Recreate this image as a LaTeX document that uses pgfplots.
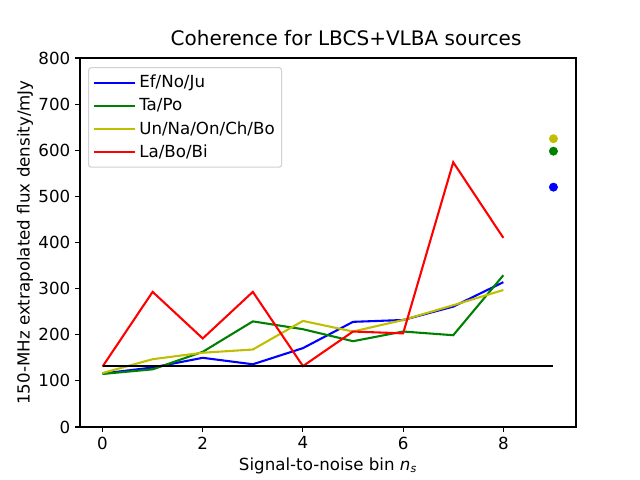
\documentclass[border=0pt]{standalone}
\usepackage{pgfplots}
\pgfplotsset{compat=1.18}
\usepackage{fontspec}
\setmainfont{DejaVu Sans}
\definecolor{mblue}{rgb}{0,0,1}
\definecolor{mgreen}{rgb}{0,0.5,0}
\definecolor{myellow}{rgb}{0.75,0.75,0}
\definecolor{mred}{rgb}{1,0,0}
\begin{document}
\begin{tikzpicture}
\useasboundingbox (-57.6pt,-38.16pt) rectangle (403.2pt,307.44pt);
\begin{axis}[
  at={(0,0)}, anchor=south west,
  scale only axis,
  width=357.12pt, height=265.68pt,
  xmin=-0.45, xmax=9.45,
  ymin=0, ymax=800,
  xtick={0,2,4,6,8},
  ytick={0,100,...,800},
  tick align=outside,
  tick pos=left,
  major tick length=3.5pt,
  tick style={black, line width=0.8pt},
  axis line style={line width=0.8pt},
  /pgf/number format/assume math mode=true,
  tick label style={font=\fontsize{12}{14}\selectfont},
  label style={font=\fontsize{12}{14}\selectfont},
  title style={font=\fontsize{14.4}{16}\selectfont, yshift=-1pt, xshift=13pt},
  title={Coherence for LBCS+VLBA sources},
  xlabel={Signal-to-noise bin {\itshape n}\textsubscript{\itshape s}},
  ylabel={150-MHz extrapolated flux density/mJy},
  xlabel style={yshift=1pt},
  ylabel style={yshift=-3pt},
  legend style={at={(0,1)}, anchor=north west, xshift=5.8pt, yshift=-6.5pt,
    draw=black!18, rounded corners=2pt, line width=0.8pt,
    font=\fontsize{12}{14}\selectfont, row sep=2.2pt,
    inner xsep=3pt, inner ysep=3.5pt},
  legend cell align=left,
  legend image code/.code={\path (0pt,0pt) -- (30pt,0pt);\draw[#1, line width=1.5pt] (0pt,0pt) -- (25pt,0pt);},
]
\addplot[mblue, line width=1.5pt] coordinates {
(0,116) (1,129) (2,150) (3,136) (4,171) (5,228) (6,232) (7,261) (8,314)};
\addlegendentry{Ef/No/Ju}
\addplot[mgreen, line width=1.5pt] coordinates {
(0,115) (1,125) (2,163) (3,229) (4,212) (5,186) (6,207) (7,199) (8,329)};
\addlegendentry{Ta/Po}
\addplot[myellow, line width=1.5pt] coordinates {
(0,117) (1,147) (2,161) (3,168) (4,230) (5,207) (6,232) (7,264) (8,297)};
\addlegendentry{Un/Na/On/Ch/Bo}
\addplot[mred, line width=1.5pt] coordinates {
(0,131) (1,293) (2,192) (3,293) (4,132) (5,207) (6,203) (7,574) (8,410)};
\addlegendentry{La/Bo/Bi}
\addplot[black, line width=1.5pt, forget plot] coordinates {(0,132) (9,132)};
\addplot[only marks, mark=*, mark size=3pt, myellow, forget plot] coordinates {(9,625)};
\addplot[only marks, mark=*, mark size=3pt, mgreen, forget plot] coordinates {(9,598)};
\addplot[only marks, mark=*, mark size=3pt, mblue, forget plot] coordinates {(9,520)};
\end{axis}
\end{tikzpicture}
\end{document}
